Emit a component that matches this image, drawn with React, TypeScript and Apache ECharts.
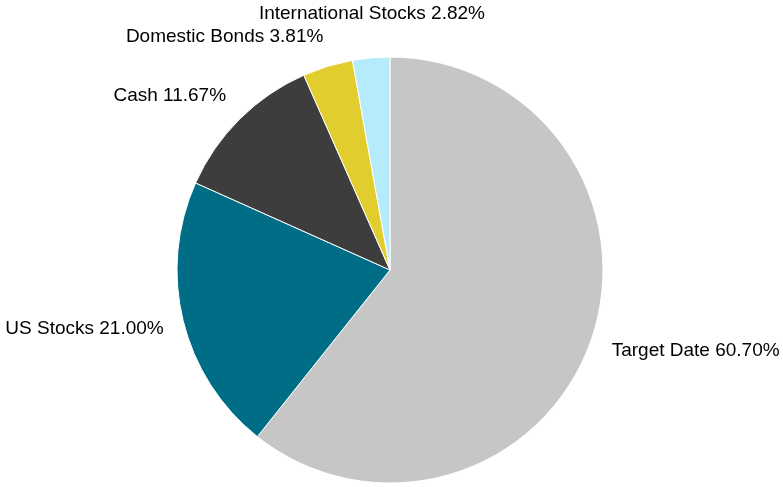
import React, { useEffect, useRef } from "react";
import * as echarts from "echarts";

const categories = ["Target Date", "US Stocks", "Cash", "Domestic Bonds", "International Stocks"];
const values = [60.7, 21.0, 11.67, 3.81, 2.82];
const colors = ["#c6c6c6", "#006d87", "#3d3d3d", "#e2cd2f", "#b5ebfb"];

// label nudges (px) relative to ECharts' natural outside-label position
const labelNudge: Record<string, [number, number]> = {
  "Target Date": [-8, 1],
  "US Stocks": [10, 1],
  "Cash": [9, -7],
  "Domestic Bonds": [8, -7],
  "International Stocks": [121, -20],
};

export default function App() {
  const ref = useRef<HTMLDivElement>(null);
  useEffect(() => {
    if (!ref.current) return;
    const chart = echarts.init(ref.current, undefined, { renderer: "svg" });
    chart.setOption({
      animation: false,
      series: [
        {
          type: "pie",
          center: [390, 270],
          radius: 213,
          startAngle: 90,
          clockwise: true,
          avoidLabelOverlap: false,
          itemStyle: { borderColor: "#ffffff", borderWidth: 1 },
          label: {
            show: true,
            position: "outside",
            formatter: (p: any) => `${p.name} ${p.value.toFixed(2)}%`,
            fontFamily: "Liberation Sans, Arial, sans-serif",
            fontSize: 19,
            color: "#000000",
          },
          labelLine: { show: false, length: 25, length2: 0 },
          labelLayout: (params: any) => {
            const n = labelNudge[categories[params.dataIndex]] || [0, 0];
            return { dx: n[0], dy: n[1], hideOverlap: false };
          },
          data: categories.map((c, i) => ({ name: c, value: values[i], itemStyle: { color: colors[i] } })),
        },
      ],
    });
    return () => chart.dispose();
  }, []);
  return (
    <div
      ref={ref}
      style={{ position: "fixed", left: 0, top: 0, width: 783, height: 487 }}
    />
  );
}
